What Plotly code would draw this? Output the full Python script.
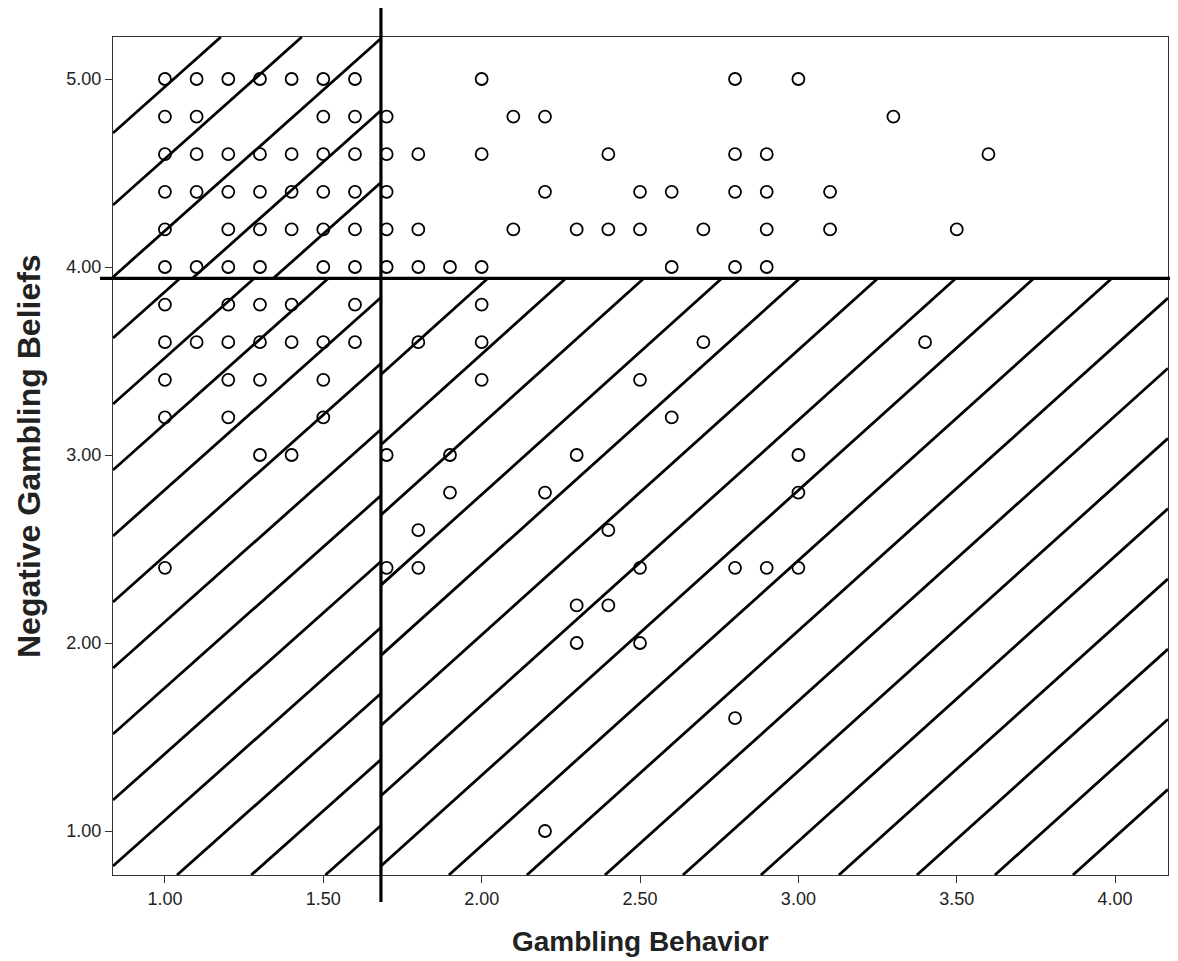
import plotly.graph_objects as go

# ---- data ----
gambling_behavior = [
    1.0, 1.1, 1.2, 1.3, 1.4, 1.5, 1.6, 2.0, 2.8, 3.0,                      # 5.0
    1.0, 1.1, 1.5, 1.6, 1.7, 2.1, 2.2, 3.3,                                # 4.8
    1.0, 1.1, 1.2, 1.3, 1.4, 1.5, 1.6, 1.7, 1.8, 2.0, 2.4, 2.8, 2.9, 3.6,  # 4.6
    1.0, 1.1, 1.2, 1.3, 1.4, 1.5, 1.6, 1.7, 2.2, 2.5, 2.6, 2.8, 2.9, 3.1,  # 4.4
    1.0, 1.2, 1.3, 1.4, 1.5, 1.6, 1.7, 1.8, 2.1, 2.3, 2.4, 2.5, 2.7, 2.9, 3.1, 3.5,  # 4.2
    1.0, 1.1, 1.2, 1.3, 1.5, 1.6, 1.7, 1.8, 1.9, 2.0, 2.6, 2.8, 2.9,       # 4.0
    1.0, 1.2, 1.3, 1.4, 1.6, 2.0,                                          # 3.8
    1.0, 1.1, 1.2, 1.3, 1.4, 1.5, 1.6, 1.8, 2.0, 2.7, 3.4,                 # 3.6
    1.0, 1.2, 1.3, 1.5, 2.0, 2.5,                                          # 3.4
    1.0, 1.2, 1.5, 2.6,                                                    # 3.2
    1.3, 1.4, 1.7, 1.9, 2.3, 3.0,                                          # 3.0
    1.9, 2.2, 3.0,                                                         # 2.8
    1.8, 2.4,                                                              # 2.6
    1.0, 1.7, 1.8, 2.5, 2.8, 2.9, 3.0,                                     # 2.4
    2.3, 2.4,                                                              # 2.2
    2.3, 2.5,                                                              # 2.0
    2.8,                                                                   # 1.6
    2.2,                                                                   # 1.0
]
negative_beliefs = (
    [5.0] * 10 + [4.8] * 8 + [4.6] * 14 + [4.4] * 14 + [4.2] * 16 + [4.0] * 13
    + [3.8] * 6 + [3.6] * 11 + [3.4] * 6 + [3.2] * 4 + [3.0] * 6 + [2.8] * 3
    + [2.6] * 2 + [2.4] * 7 + [2.2] * 2 + [2.0] * 2 + [1.6] * 1 + [1.0] * 1
)
x_ticks = [1.0, 1.5, 2.0, 2.5, 3.0, 3.5, 4.0]
y_ticks = [1.0, 2.0, 3.0, 4.0, 5.0]
cut_behavior = 1.682   # vertical reference line
cut_beliefs = 3.94     # horizontal reference line

# ---- layout geometry (page pixels; the page body adds an 8px offset) ----
OFF = 8
W, H = 1178, 961
L, R, T, B = 113, 1168, 37, 875
X0, X1 = 0.836, 4.167
Y0, Y1 = 0.766, 5.2234


def px_to_data(px, py):
    return (X0 + (px - L) / (R - L) * (X1 - X0),
            Y1 - (py - T) / (B - T) * (Y1 - Y0))


VX = L + (cut_behavior - X0) / (X1 - X0) * (R - L)
HY = T + (Y1 - cut_beliefs) / (Y1 - Y0) * (B - T)


def hatch(rect, slope, c0, dv, min_len=40):
    """Diagonal hatch lines y = c - slope*(x-L) (pixel space), clipped to rect."""
    xa, xb, ya, yb = rect
    xs, ys = [], []
    for k in range(-60, 60):
        c = c0 + k * dv
        lo = L + (c - yb) / slope
        hi = L + (c - ya) / slope
        a, b = max(xa, lo), min(xb, hi)
        if b <= a:
            continue
        pa = (a, c - slope * (a - L))
        pb = (b, c - slope * (b - L))
        if ((pb[0] - pa[0]) ** 2 + (pb[1] - pa[1]) ** 2) ** 0.5 < min_len:
            continue
        for p in (pa, pb):
            dx, dy = px_to_data(*p)
            xs.append(dx)
            ys.append(dy)
        xs.append(None)
        ys.append(None)
    return xs, ys


hx, hy = [], []
for rect, slope, c0, dv in [
    ((L, VX, T, HY), 0.89, 277, 72),                       # upper-left
    ((L, VX, HY, B), 0.89, 866, 66),                       # lower-left
    ((VX, R, HY, B), 0.90, B + 0.90 * (760.9 - L), 70.2),  # lower-right
]:
    a, b = hatch(rect, slope, c0, dv)
    hx += a
    hy += b

fig = go.Figure()
fig.add_trace(go.Scatter(x=hx, y=hy, mode="lines",
                         line=dict(color="black", width=2.8),
                         hoverinfo="skip", showlegend=False))
fig.add_trace(go.Scatter(x=gambling_behavior, y=negative_beliefs, mode="markers",
                         marker=dict(symbol="circle-open", size=12,
                                     color="black", line=dict(width=1.8)),
                         showlegend=False))

fig.add_shape(type="line", xref="x", yref="paper",
              x0=cut_behavior, x1=cut_behavior,
              y0=-(902 - B) / (B - T), y1=1 + (T - 7) / (B - T),
              line=dict(color="black", width=3.2))
fig.add_shape(type="line", xref="paper", yref="y",
              x0=-(L - 100) / (R - L), x1=1 + (W - R) / (R - L),
              y0=cut_beliefs, y1=cut_beliefs,
              line=dict(color="black", width=3.2))

font_family = "Liberation Sans, Arial, sans-serif"
axis_common = dict(showgrid=False, zeroline=False, showline=True, mirror=True,
                   linecolor="#333333", linewidth=1.3, ticks="outside",
                   ticklen=7, tickwidth=1.3, tickcolor="#333333",
                   tickformat=".2f",
                   tickfont=dict(family=font_family, size=18, color="#222222"))

fig.update_layout(
    width=W - OFF, height=H - OFF,
    margin=dict(l=L - OFF, r=W - R, t=T - OFF, b=H - B),
    plot_bgcolor="white", paper_bgcolor="white",
    xaxis=dict(range=[X0, X1], tickvals=x_ticks, **axis_common),
    yaxis=dict(range=[Y0, Y1], tickvals=y_ticks, **axis_common),
    annotations=[
        dict(text="<b>Gambling Behavior</b>", xref="paper", yref="paper",
             x=0.5, y=-(941 - B) / (B - T), xanchor="center", yanchor="middle",
             showarrow=False,
             font=dict(family=font_family, size=28, color="#222222")),
        dict(text="<b>Negative Gambling Beliefs</b>", xref="paper", yref="paper",
             x=-(L - 29) / (R - L), y=0.5, xanchor="center", yanchor="middle",
             textangle=-90, showarrow=False,
             font=dict(family=font_family, size=32, color="#222222")),
    ],
)

fig.write_html("out.html")
